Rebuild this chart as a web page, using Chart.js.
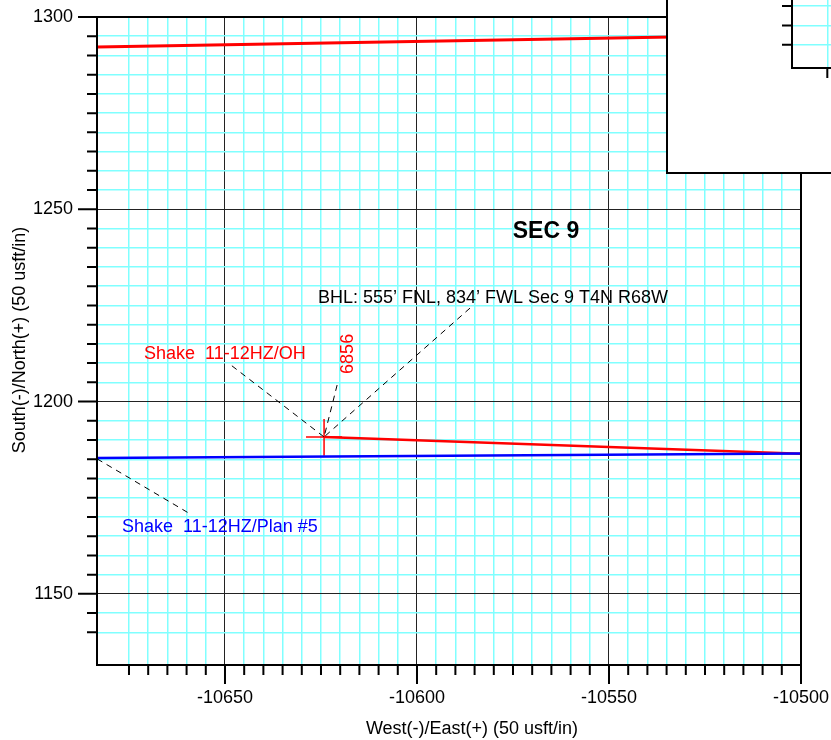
<!DOCTYPE html>
<html>
<head>
<meta charset="utf-8">
<script src="https://cdn.jsdelivr.net/npm/chart.js@4/dist/chart.umd.min.js"></script>
<style>
  html, body { margin: 0; padding: 0; background: #fff; overflow: hidden; }
  #wrap { position: relative; width: 831px; height: 740px; overflow: hidden; }
  #inset { position: absolute; left: 666px; top: -30px; width: 300px; height: 204px;
           box-sizing: border-box; border: 2px solid #000; background: #fff; }
</style>
</head>
<body>
<div id="wrap">
  <canvas id="plan" width="831" height="740"></canvas>
  <div id="inset"><canvas id="insetChart" width="296" height="200"></canvas></div>
</div>
<script>
// wellbore traces (West/East, South/North in usft)
var offsetEW = [-10683.3, -10500], offsetNS = [1292.2, 1295.4];   // other well, top
var ohEW = [-10624.2, -10500], ohNS = [1190.8, 1186.4];           // Shake 11-12HZ/OH
var planEW = [-10683.3, -10500], planNS = [1185.3, 1186.5];       // Shake 11-12HZ/Plan #5
// BHL marker cross
var crossH_EW = [-10628.9, -10619.5], crossH_NS = [1190.8, 1190.8];
var crossV_EW = [-10624.2, -10624.2], crossV_NS = [1195.5, 1185.9];
// leader lines (start point -> target)
var leadOH_EW = [-10648.2, -10624.2], leadOH_NS = [1209.3, 1190.8];
var leadMD_EW = [-10620.8, -10624.2], leadMD_NS = [1204.3, 1190.8];
var leadBHL_EW = [-10586.2, -10624.2], leadBHL_NS = [1224.3, 1190.8];
var leadPlan_EW = [-10683.3, -10659.1], leadPlan_NS = [1185.1, 1170.8];

var xTickLabels = [-10650, -10600, -10550, -10500];
var yTickLabels = [1150, 1200, 1250, 1300];

function pts(xs, ys) {
  return xs.map(function (x, i) { return { x: x, y: ys[i] }; });
}
function isMajor(v) { return Math.abs(v % 50) < 1e-6; }

const FONT = '"Liberation Sans", Arial, sans-serif';

// text notes placed in data coordinates
var notes = [
  { text: 'SEC 9', x: -10566.4, y: 1244.1, color: '#000', font: 'bold 23px ' + FONT, align: 'center' },
  { text: 'BHL: 555’ FNL, 834’ FWL Sec 9 T4N R68W', x: -10625.8, y: 1226.9, color: '#000', font: '18px ' + FONT, align: 'left' },
  { text: 'Shake  11-12HZ/OH', x: -10671.1, y: 1212.4, color: '#ff0000', font: '18px ' + FONT, align: 'left' },
  { text: '6856', x: -10618.0, y: 1212.4, color: '#ff0000', font: '18px ' + FONT, align: 'center', rot: -Math.PI / 2 },
  { text: 'Shake  11-12HZ/Plan #5', x: -10676.8, y: 1167.4, color: '#0000ff', font: '18px ' + FONT, align: 'left' }
];

// frame + outside tick marks
const frameTicks = {
  id: 'frameTicks',
  afterDraw(chart, args, opts) {
    const ctx = chart.ctx, a = chart.chartArea;
    const xs = chart.scales.x, ys = chart.scales.y;
    ctx.save();
    ctx.strokeStyle = '#000';
    ctx.lineWidth = 2;
    ctx.beginPath();
    xs.ticks.forEach(function (t) {
      const p = xs.getPixelForValue(t.value);
      const len = opts.major && isMajor(t.value) ? opts.majorLen : opts.minorLen;
      ctx.moveTo(p, a.bottom); ctx.lineTo(p, a.bottom + len);
    });
    ys.ticks.forEach(function (t) {
      const p = ys.getPixelForValue(t.value);
      const len = opts.major && isMajor(t.value) ? opts.majorLen : opts.minorLen;
      ctx.moveTo(a.left, p); ctx.lineTo(a.left - len, p);
    });
    ctx.stroke();
    ctx.strokeRect(a.left, a.top, a.right - a.left, a.bottom - a.top);
    ctx.restore();
  }
};

const notesPlugin = {
  id: 'notes',
  afterDraw(chart) {
    const ctx = chart.ctx, xs = chart.scales.x, ys = chart.scales.y;
    ctx.save();
    ctx.textBaseline = 'middle';
    notes.forEach(function (n) {
      ctx.save();
      ctx.translate(xs.getPixelForValue(n.x), ys.getPixelForValue(n.y));
      if (n.rot) ctx.rotate(n.rot);
      ctx.font = n.font;
      ctx.fillStyle = n.color;
      ctx.textAlign = n.align;
      ctx.fillText(n.text, 0, 0);
      ctx.restore();
    });
    // axis titles
    ctx.font = '18px ' + FONT;
    ctx.fillStyle = '#000';
    ctx.textAlign = 'center';
    ctx.fillText('West(-)/East(+) (50 usft/in)', 472, 729);
    ctx.translate(20, 340);
    ctx.rotate(-Math.PI / 2);
    ctx.fillText('South(-)/North(+) (50 usft/in)', 0, 0);
    ctx.restore();
  }
};

function lineSet(data, color, width, dash) {
  return {
    data: data, showLine: true, borderColor: color, borderWidth: width,
    borderDash: dash || [], pointRadius: 0, fill: false, tension: 0
  };
}

const gridColor = function (c) { return c.tick && isMajor(c.tick.value) ? '#222' : '#80ffff'; };
const gridWidth = function (c) { return c.tick && isMajor(c.tick.value) ? 1 : 1.5; };

new Chart(document.getElementById('plan'), {
  type: 'scatter',
  data: {
    datasets: [
      lineSet(pts(leadOH_EW, leadOH_NS), '#000', 1, [6, 5]),
      lineSet(pts(leadMD_EW, leadMD_NS), '#000', 1, [6, 5]),
      lineSet(pts(leadBHL_EW, leadBHL_NS), '#000', 1, [6, 5]),
      lineSet(pts(leadPlan_EW, leadPlan_NS), '#000', 1, [6, 5]),
      lineSet(pts(planEW, planNS), '#0000ff', 2.5),
      lineSet(pts(offsetEW, offsetNS), '#ff0000', 3),
      lineSet(pts(ohEW, ohNS), '#ff0000', 2.5),
      lineSet(pts(crossH_EW, crossH_NS), '#ff0000', 1.5),
      lineSet(pts(crossV_EW, crossV_NS), '#ff0000', 1.5)
    ]
  },
  options: {
    responsive: false,
    animation: false,
    events: [],
    layout: { padding: { top: 17, right: 30, left: 0, bottom: 0 } },
    plugins: { legend: { display: false }, tooltip: { enabled: false }, frameTicks: { major: true, minorLen: 10, majorLen: 19 } },
    scales: {
      x: {
        type: 'linear', min: -10683.33, max: -10500,
        afterBuildTicks: function (s) { s.ticks = s.ticks.filter(function (t) { return Math.abs(t.value % 5) < 1e-6; }); },
        afterFit: function (s) { s.height = 75; s.paddingLeft = 0; s.paddingRight = 0; },
        border: { display: false },
        grid: { drawTicks: false, color: gridColor, lineWidth: gridWidth },
        ticks: {
          stepSize: 5, autoSkip: false, maxRotation: 0, padding: 22, color: '#000',
          font: { family: FONT, size: 18 },
          callback: function (v) { return xTickLabels.indexOf(Math.round(v)) >= 0 && isMajor(v) ? String(Math.round(v)) : ''; }
        }
      },
      y: {
        type: 'linear', min: 1131.5, max: 1300,
        afterBuildTicks: function (s) { s.ticks = s.ticks.filter(function (t) { return Math.abs(t.value % 5) < 1e-6; }); },
        afterFit: function (s) { s.width = 97; s.paddingTop = 0; s.paddingBottom = 0; },
        border: { display: false },
        grid: { drawTicks: false, color: gridColor, lineWidth: gridWidth },
        ticks: {
          stepSize: 5, autoSkip: false, padding: 24, color: '#000',
          font: { family: FONT, size: 18 },
          callback: function (v) { return yTickLabels.indexOf(Math.round(v)) >= 0 && isMajor(v) ? String(Math.round(v)) : ''; }
        }
      }
    }
  },
  plugins: [frameTicks, notesPlugin]
});

// inset locator box (top right), only its lower-left corner is in view
new Chart(document.getElementById('insetChart'), {
  type: 'scatter',
  data: { datasets: [] },
  options: {
    responsive: false,
    animation: false,
    events: [],
    layout: { padding: 0 },
    plugins: { legend: { display: false }, tooltip: { enabled: false }, frameTicks: { major: false, minorLen: 10, majorLen: 10 } },
    scales: {
      x: {
        type: 'linear', min: -0.829, max: 8.08,
        afterBuildTicks: function (s) { s.ticks = s.ticks.filter(function (t) { return Number.isInteger(t.value); }); },
        afterFit: function (s) { s.height = 104; s.paddingLeft = 0; s.paddingRight = 0; },
        border: { display: false },
        grid: { drawTicks: false, color: '#80ffff', lineWidth: 1.5 },
        ticks: { stepSize: 1, autoSkip: false, callback: function () { return ''; } }
      },
      y: {
        type: 'linear', min: -0.207, max: 4.767,
        afterBuildTicks: function (s) { s.ticks = s.ticks.filter(function (t) { return Number.isInteger(t.value); }); },
        afterFit: function (s) { s.width = 124; s.paddingTop = 0; s.paddingBottom = 0; },
        border: { display: false },
        grid: { drawTicks: false, color: '#80ffff', lineWidth: 1.5 },
        ticks: { stepSize: 1, autoSkip: false, callback: function () { return ''; } }
      }
    }
  },
  plugins: [frameTicks]
});
</script>
</body>
</html>
